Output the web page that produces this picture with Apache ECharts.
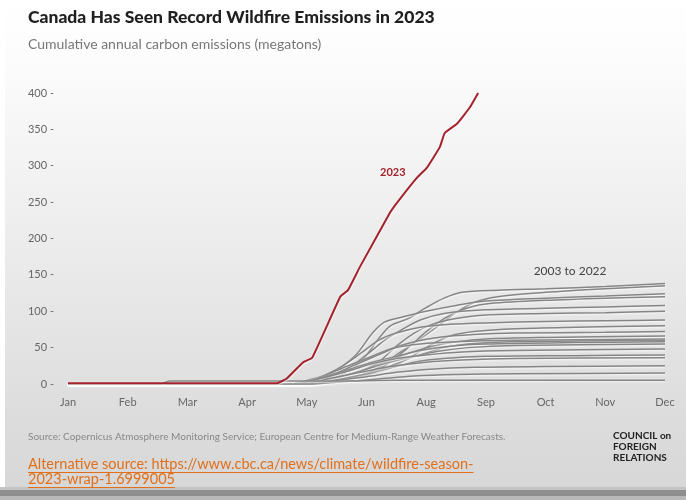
<!DOCTYPE html>
<html>
<head>
<meta charset="utf-8">
<script src="https://cdn.jsdelivr.net/npm/echarts@6/dist/echarts.min.js"></script>
<style>
html,body{margin:0;padding:0;background:#fff;}
#chart{width:686px;height:500px;}
</style>
</head>
<body>
<div id="chart"></div>
<script>
// X tick labels (as shown in the reference; evenly spaced)
const monthLabels = ['Jan','Feb','Mar','Apr','May','Jun','Aug','Sep','Oct','Nov','Dec'];
const yTicks = [0,50,100,150,200,250,300,350,400];

// 2023 cumulative emissions [position on month axis, megatons]
const series2023 = [[0,1],[3.5,1],[3.67,8],[3.94,30],[4.09,36],[4.56,120],[4.69,129],[4.89,161],[5.39,235],[5.51,249],[5.85,284],[6.01,297],[6.23,326],[6.31,345],[6.52,358],[6.73,380],[6.87,400]];

// 2003 to 2022 (one array per year)
const yr01 = [[0,0],[3.8,0],[4.1,4],[4.5,10],[4.9,30],[5.2,62],[5.4,80],[5.7,90],[6.0,105],[6.3,118],[6.6,126],[7.2,129],[8,131],[9,134],[10,138]];
const yr02 = [[0,0],[3.9,0],[4.3,3],[4.7,8],[5.1,18],[5.5,40],[5.9,62],[6.2,80],[6.5,98],[6.8,112],[7.2,120],[8,126],[9,131],[10,135]];
const yr03 = [[0,0],[3.7,0],[4.0,5],[4.4,15],[4.8,38],[5.1,70],[5.3,85],[5.6,92],[6.0,100],[6.5,108],[7,114],[8,118],[9,121],[10,124]];
const yr04 = [[0,0],[4.0,0],[4.4,4],[4.9,12],[5.3,25],[5.7,50],[6.0,72],[6.3,90],[6.6,102],[7,110],[8,115],[9,118],[10,120]];
const yr05 = [[0,0],[3.8,0],[4.2,6],[4.6,16],[5.0,40],[5.3,60],[5.6,75],[5.9,88],[6.3,97],[7,102],[8,104],[9,106],[10,108]];
const yr06 = [[0,0],[3.9,0],[4.3,5],[4.8,14],[5.2,30],[5.5,52],[5.8,70],[6.1,82],[6.5,90],[7,95],[8,97],[9,98],[10,100]];
const yr07 = [[0,0],[3.7,0],[4.1,6],[4.5,20],[4.9,42],[5.2,60],[5.5,70],[5.9,78],[6.4,82],[7,84],[8,86],[9,87],[10,88]];
const yr08 = [[0,0],[4.0,0],[4.5,5],[5.0,12],[5.4,22],[5.8,40],[6.1,55],[6.4,66],[6.8,72],[7.5,76],[8.5,78],[10,80]];
const yr09 = [[0,0],[3.8,0],[4.2,8],[4.6,22],[5.0,35],[5.4,48],[5.8,58],[6.2,64],[6.8,68],[7.5,70],[9,71],[10,72]];
const yr10 = [[0,0],[3.9,0],[4.4,6],[4.9,18],[5.3,30],[5.7,42],[6.1,52],[6.5,58],[7,62],[8,64],[10,66]];
const yr11 = [[0,0],[3.7,0],[4.0,4],[4.4,12],[4.8,26],[5.2,40],[5.5,50],[5.9,55],[6.5,58],[7.5,60],[10,62]];
const yr12 = [[0,0],[4.1,0],[4.6,6],[5.1,15],[5.5,28],[5.9,40],[6.3,50],[6.7,55],[7.5,58],[10,60]];
const yr13 = [[0,0],[3.8,0],[4.3,10],[4.7,20],[5.1,30],[5.5,38],[5.9,46],[6.4,52],[7,55],[8.5,57],[10,58]];
const yr14 = [[0,0],[3.9,0],[4.3,5],[4.8,15],[5.3,28],[5.8,38],[6.2,45],[6.7,50],[7.5,53],[10,55]];
const yr15 = [[0,0],[3.8,0],[4.2,7],[4.7,18],[5.1,28],[5.5,35],[6.0,40],[6.6,44],[7.5,46],[10,48]];
const yr16 = [[0,0],[4.0,0],[4.5,6],[5.0,14],[5.4,22],[5.8,30],[6.3,35],[7,38],[8.5,39],[10,40]];
const yr17 = [[0,0],[3.9,0],[4.4,8],[4.9,16],[5.4,24],[6.0,30],[6.6,33],[7.5,35],[10,36]];
const yr18 = [[0,0],[4.0,0],[4.5,5],[5.0,10],[5.5,16],[6.0,20],[6.8,23],[8,24],[10,25]];
const yr19 = [[0,0],[4.1,0],[4.6,3],[5.2,7],[5.8,11],[6.5,13],[7.5,14],[10,15]];
const yr20 = [[0,0],[1.55,0],[1.7,4],[3.9,4],[4.5,4],[5.5,5],[10,5]];

const pastYears = [yr01,yr02,yr03,yr04,yr05,yr06,yr07,yr08,yr09,yr10,yr11,yr12,yr13,yr14,yr15,yr16,yr17,yr18,yr19,yr20];
const pastNames = ['2003','2004','2005','2006','2007','2008','2009','2010','2011','2012','2013','2014','2015','2016','2017','2018','2019','2020','2021','2022'];

const chart = echarts.init(document.getElementById('chart'), null, {renderer:'canvas'});

const greySeries = pastYears.map((d, i) => ({
  name: pastNames[i],
  type: 'line',
  data: d,
  symbol: 'none',
  smooth: 0.3,
  clip: false,
  z: 2,
  lineStyle: {color: '#858585', width: 1.5, shadowColor: 'rgba(255,255,255,0.9)', shadowBlur: 2, shadowOffsetY: 1},
  emphasis: {disabled: true}
}));

greySeries[0].markPoint = {
  symbol: 'circle', symbolSize: 0, silent: true,
  data: [{coord: [8.41, 155], value: '2003 to 2022'}],
  label: {show: true, position: 'inside', formatter: '2003 to 2022', color: '#444', fontSize: 12, fontFamily: 'Lato'}
};

const linkFont = '14.5px Lato';
const linkLine1 = 'Alternative source: https://www.cbc.ca/news/climate/wildfire-season-';
const linkLine2 = '2023-wrap-1.6999005';
const w1 = echarts.format.getTextRect ? echarts.format.getTextRect(linkLine1, linkFont).width : 442;
const w2 = echarts.format.getTextRect ? echarts.format.getTextRect(linkLine2, linkFont).width : 135;

const option = {
  animation: false,
  backgroundColor: 'transparent',
  graphic: [
    {type: 'rect', z: -100, silent: true, shape: {x: 0, y: 0, width: 686, height: 500},
     style: {fill: new echarts.graphic.LinearGradient(0, 0, 0, 1, [
       {offset: 0, color: '#ffffff'}, {offset: 0.12, color: '#fcfcfc'},
       {offset: 0.4, color: '#f0f0f0'}, {offset: 0.8, color: '#dedede'}, {offset: 1, color: '#d6d6d6'}])}},
    {type: 'rect', z: -99, silent: true, shape: {x: 0, y: 0, width: 5, height: 487}, style: {fill: '#ffffff'}},
    {type: 'rect', z: -99, silent: true, shape: {x: 0, y: 487, width: 686, height: 3}, style: {fill: '#c4c4c4'}},
    {type: 'rect', z: -99, silent: true, shape: {x: 0, y: 490, width: 686, height: 6}, style: {fill: '#8e8e8e'}},
    {type: 'rect', z: -99, silent: true, shape: {x: 0, y: 496, width: 686, height: 4}, style: {fill: '#b8b8b8'}},
    {type: 'text', left: 28, top: 8, silent: true,
     style: {text: 'Canada Has Seen Record Wildfire Emissions in 2023', fill: '#1f1f1f', font: '900 17.5px Lato'}},
    {type: 'text', left: 28, top: 37, silent: true,
     style: {text: 'Cumulative annual carbon emissions (megatons)', fill: '#777', font: '14px Lato'}},
    {type: 'text', left: 28, top: 432, silent: true,
     style: {text: 'Source: Copernicus Atmosphere Monitoring Service; European Centre for Medium-Range Weather Forecasts.', fill: '#888', font: '10px Lato'}},
    {type: 'text', left: 28, top: 457, silent: true,
     style: {text: linkLine1, fill: '#e0701c', font: linkFont}},
    {type: 'text', left: 28, top: 472, silent: true,
     style: {text: linkLine2, fill: '#e0701c', font: linkFont}},
    {type: 'rect', silent: true, shape: {x: 28, y: 472, width: w1, height: 1}, style: {fill: '#e0701c'}},
    {type: 'rect', silent: true, shape: {x: 28, y: 487, width: w2, height: 1}, style: {fill: '#e0701c'}},
    {type: 'text', left: 613, top: 430, silent: true,
     style: {text: 'COUNCIL on\nFOREIGN\nRELATIONS', fill: '#222', font: 'bold 10px Lato', lineHeight: 11}}
  ],
  grid: {left: 68, right: 21, top: 93, bottom: 116, containLabel: false},
  xAxis: {
    type: 'value', min: 0, max: 10, interval: 1,
    axisLine: {show: false}, axisTick: {show: false}, splitLine: {show: false},
    axisLabel: {color: '#666', fontSize: 11, fontFamily: 'Lato', margin: 13,
      formatter: v => monthLabels[Math.round(v)] || ''}
  },
  yAxis: {
    type: 'value', min: yTicks[0], max: yTicks[yTicks.length - 1], interval: 50,
    axisLine: {show: false}, axisTick: {show: false}, splitLine: {show: false},
    axisLabel: {color: '#666', fontSize: 11, fontFamily: 'Lato', margin: 14,
      formatter: v => v + ' -'}
  },
  series: greySeries.concat([{
    name: '2023', type: 'line', data: series2023, symbol: 'none', smooth: 0.1, clip: false, z: 5,
    lineStyle: {color: '#a3222b', width: 2, shadowColor: 'rgba(255,255,255,0.9)', shadowBlur: 2, shadowOffsetY: 1},
    emphasis: {disabled: true},
    markPoint: {
      symbol: 'circle', symbolSize: 0, silent: true,
      data: [{coord: [5.44, 291], value: '2023'}],
      label: {show: true, position: 'inside', formatter: '2023', color: '#a3222b', fontSize: 11, fontWeight: 'bold', fontFamily: 'Lato'}
    }
  }])
};
chart.setOption(option);
</script>
</body>
</html>
